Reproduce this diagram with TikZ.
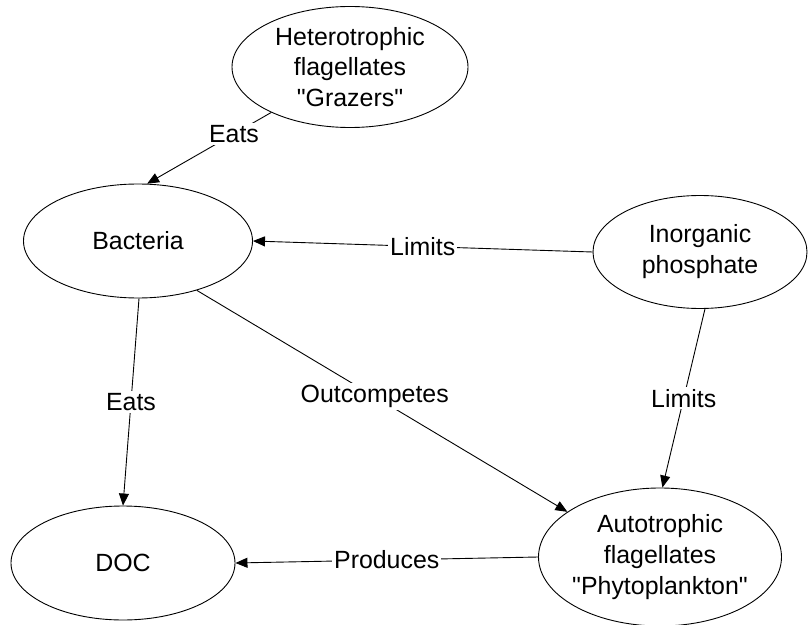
\documentclass[tikz,border=0pt]{standalone}
\usepackage{fontspec}
\setmainfont{Liberation Sans}
\usetikzlibrary{shapes.geometric,arrows.meta}
\begin{document}
\begin{tikzpicture}[x=1bp,y=-1bp,
  every node/.style={font=\fontsize{25}{31}\selectfont},
  blob/.style={ellipse,draw,line width=0.9bp,inner sep=0pt},
  txt/.style={align=center},
  link/.style={draw,line width=0.9bp,-{Triangle[length=12bp,width=10bp]}},
  tag/.style={fill=white,inner sep=2bp}]
\useasboundingbox (0,0) rectangle (808,625);

% organisms and nutrients
\node[blob,minimum width=236bp,minimum height=121bp,
  label={[txt]center:Heterotrophic\\flagellates\\\textquotedbl Grazers\textquotedbl}] (het) at (350,67) {};
\node[blob,minimum width=229bp,minimum height=114bp,
  label={[txt]center:Bacteria}] (bac) at (138,241) {};
\node[blob,minimum width=214bp,minimum height=113bp,
  label={[txt]center:Inorganic\\phosphate}] (ino) at (700,252) {};
\node[blob,minimum width=224bp,minimum height=114bp,
  label={[txt]center:DOC}] (doc) at (123,563) {};
\node[blob,minimum width=243bp,minimum height=138bp,
  label={[txt]center:Autotrophic\\flagellates\\\textquotedbl Phytoplankton\textquotedbl}] (aut) at (660,557) {};

% interactions
\draw[link] (het.210) -- node[tag,pos=0.3]{Eats} (bac.81);
\draw[link] (ino.180) -- node[tag,pos=0.5]{Limits} (bac.0);
\draw[link] (bac.271) -- node[tag,pos=0.5]{Eats} (doc.90);
\draw[link] (bac.320) -- node[tag,pos=0.48]{Outcompetes} (aut.154);
\draw[link] (ino.275) -- node[tag,pos=0.5]{Limits} (aut.88);
\draw[link] (aut.180) -- node[tag,pos=0.5]{Produces} (doc.0);
\end{tikzpicture}
\end{document}
